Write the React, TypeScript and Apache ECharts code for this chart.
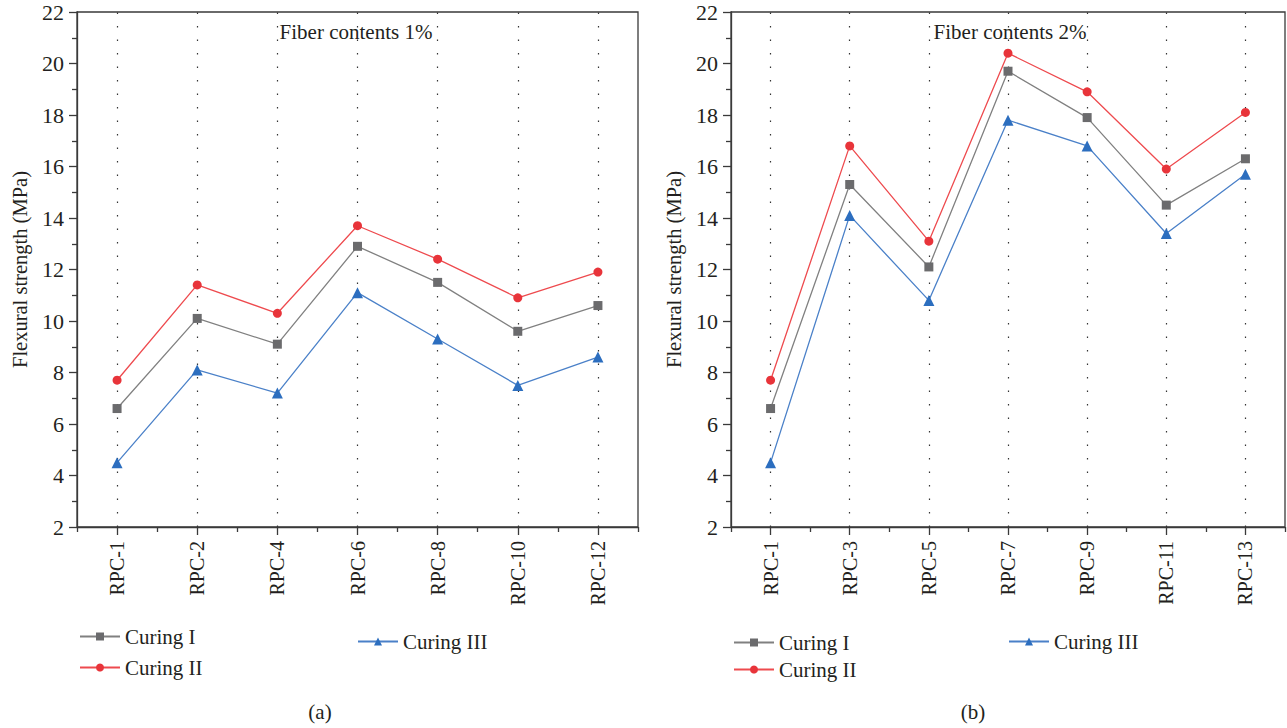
import React, { useEffect, useRef } from "react";
import * as echarts from "echarts";

const categoriesA = ["RPC-1", "RPC-2", "RPC-4", "RPC-6", "RPC-8", "RPC-10", "RPC-12"];
const categoriesB = ["RPC-1", "RPC-3", "RPC-5", "RPC-7", "RPC-9", "RPC-11", "RPC-13"];

const curingIA = [6.6, 10.1, 9.1, 12.9, 11.5, 9.6, 10.6];
const curingIIA = [7.7, 11.4, 10.3, 13.7, 12.4, 10.9, 11.9];
const curingIIIA = [4.5, 8.1, 7.2, 11.1, 9.3, 7.5, 8.6];

const curingIB = [6.6, 15.3, 12.1, 19.7, 17.9, 14.5, 16.3];
const curingIIB = [7.7, 16.8, 13.1, 20.4, 18.9, 15.9, 18.1];
const curingIIIB = [4.5, 14.1, 10.8, 17.8, 16.8, 13.4, 15.7];

const yTicks = { min: 2, max: 22, interval: 2 };
const seriesNames = ["Curing I", "Curing II", "Curing III"];
const titles = ["Fiber contents 1%", "Fiber contents 2%"];
const panelLabels = ["(a)", "(b)"];

const FONT = "Liberation Serif";
const TXT = "#231f20";
const AX = "#3a3a3a";
const colors = ["#6b6b6d", "#e8343a", "#2c6ebf"];
const lineColors = ["#808080", "#ee4a4e", "#4a80c8"];
const symbols = ["rect", "circle", "triangle"];
const symbolSizes = [9, 9, 11];

export default function App() {
  const ref = useRef<HTMLDivElement>(null);
  useEffect(() => {
    if (!ref.current) return;
    const chart = echarts.init(ref.current, null, { renderer: "svg" });
    const grids = [
      { left: 77, top: 12, width: 561, height: 515 },
      { left: 731, top: 12, width: 554, height: 515 },
    ];
    const cats = [categoriesA, categoriesB];
    const data = [
      [curingIA, curingIIA, curingIIIA],
      [curingIB, curingIIB, curingIIIB],
    ];
    const xAxis: any[] = [];
    const yAxis: any[] = [];
    const series: any[] = [];
    grids.forEach((g, gi) => {
      xAxis.push({
        type: "category",
        gridIndex: gi,
        data: cats[gi],
        boundaryGap: true,
        axisLine: { lineStyle: { color: AX, width: 1.3 } },
        axisTick: { show: true, length: 5, lineStyle: { color: AX, width: 1.3 } },
        axisLabel: {
          rotate: 90,
          margin: 14,
          fontFamily: FONT,
          fontSize: 20,
          color: TXT,
        },
        splitLine: { show: false },
      });
      xAxis.push({
        type: "category",
        gridIndex: gi,
        data: cats[gi],
        boundaryGap: true,
        position: "bottom",
        axisLine: { show: false },
        axisTick: { show: true, alignWithLabel: true, length: 8, lineStyle: { color: AX, width: 1.3 } },
        axisLabel: { show: false },
        splitLine: { show: false },
      });
      yAxis.push({
        type: "value",
        gridIndex: gi,
        min: yTicks.min,
        max: yTicks.max,
        interval: yTicks.interval,
        name: "Flexural strength (MPa)",
        nameLocation: "middle",
        nameGap: 47,
        nameRotate: 90,
        nameTextStyle: { fontFamily: FONT, fontSize: 20.5, color: TXT },
        axisLine: { show: true, lineStyle: { color: AX, width: 1.3 } },
        axisTick: { show: true, length: 8, lineStyle: { color: AX, width: 1.3 } },
        minorTick: { show: true, splitNumber: 2, length: 5, lineStyle: { color: AX, width: 1.3 } },
        axisLabel: { fontFamily: FONT, fontSize: 22, color: TXT, margin: 13 },
        splitLine: { show: false },
      });
      data[gi].forEach((vals, si) => {
        const s: any = {
          type: "line",
          name: seriesNames[si],
          xAxisIndex: gi * 2,
          yAxisIndex: gi,
          data: vals,
          symbol: symbols[si],
          symbolSize: symbolSizes[si],
          showSymbol: true,
          itemStyle: { color: colors[si] },
          lineStyle: { color: lineColors[si], width: 1.3 },
          z: 3 + si,
        };
        if (si === 0) {
          s.markLine = {
            silent: true,
            symbol: "none",
            label: { show: false },
            lineStyle: { color: "#333", type: [1.5, 12], width: 1.2 },
            data: cats[gi].map((c) => ({ xAxis: c })),
            z: 1,
          };
        }
        series.push(s);
      });
    });

    const legendBase = {
      itemWidth: 40,
      itemHeight: 10,
      padding: 0,
      textStyle: { fontFamily: FONT, fontSize: 21, color: TXT },
      selectedMode: false,
    };

    chart.setOption({
      animation: false,
      textStyle: { fontFamily: FONT },
      grid: grids.map((g) => ({ ...g, show: true, borderColor: AX, borderWidth: 1.3, backgroundColor: "transparent" })),
      xAxis,
      yAxis,
      series,
      legend: [
        { ...legendBase, orient: "vertical", left: 79, top: 626, itemGap: 10, data: [seriesNames[0], seriesNames[1]] },
        { ...legendBase, orient: "vertical", left: 357, top: 631, data: [seriesNames[2]] },
        { ...legendBase, orient: "vertical", left: 733, top: 632, itemGap: 6, data: [seriesNames[0], seriesNames[1]] },
        { ...legendBase, orient: "vertical", left: 1008, top: 631, data: [seriesNames[2]] },
      ],
      graphic: [
        { type: "text", x: 356, y: 32, style: { text: titles[0], fontFamily: FONT, fontSize: 21, fill: TXT, align: "center", verticalAlign: "middle" } },
        { type: "text", x: 1010, y: 32, style: { text: titles[1], fontFamily: FONT, fontSize: 21, fill: TXT, align: "center", verticalAlign: "middle" } },
        { type: "text", x: 320, y: 712, style: { text: panelLabels[0], fontFamily: FONT, fontSize: 21, fill: TXT, align: "center", verticalAlign: "middle" } },
        { type: "text", x: 973, y: 712, style: { text: panelLabels[1], fontFamily: FONT, fontSize: 21, fill: TXT, align: "center", verticalAlign: "middle" } },
      ],
    });
    return () => chart.dispose();
  }, []);
  return (
    <div
      ref={ref}
      style={{ position: "fixed", left: 0, top: 0, width: 1287, height: 728, background: "#fff" }}
    />
  );
}
